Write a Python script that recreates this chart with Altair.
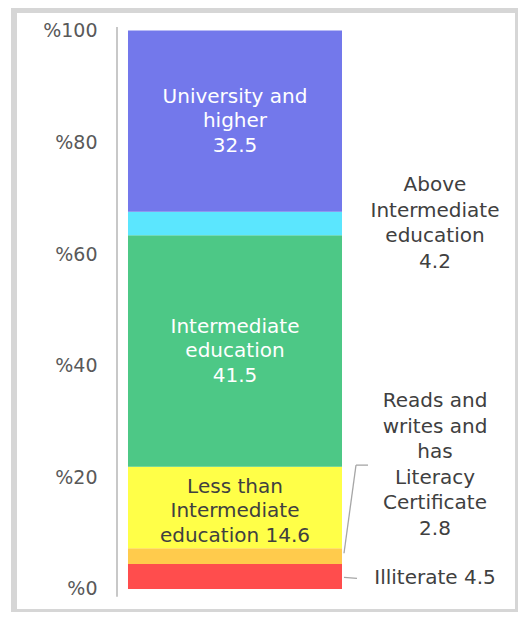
import altair as alt
import pandas as pd

# ---- data ----
categories = [
    "Illiterate",
    "Reads and writes and has Literacy Certificate",
    "Less than Intermediate education",
    "Intermediate education",
    "Above Intermediate education",
    "University and higher",
]
values = [4.5, 2.8, 14.6, 41.5, 4.2, 32.5]
labels = [
    "Illiterate 4.5",
    "Reads and\nwrites and\nhas\nLiteracy\nCertificate\n2.8",
    "Less than\nIntermediate\neducation 14.6",
    "Intermediate\neducation\n41.5",
    "Above\nIntermediate\neducation\n4.2",
    "University and\nhigher\n32.5",
]
inside = [False, False, True, True, False, True]
colors = ["#FF4D4D", "#FFCB4C", "#FFFF48", "#4DC886", "#5BE6FE", "#7378EB"]
text_colors = ["#404040", "#404040", "#404040", "#FFFFFF", "#404040", "#FFFFFF"]
# label anchor (centre of the text block) in percent units
label_centres = [2.0, 22.2, 13.9, 42.65, 65.5, 83.85]
tick_values = [0, 20, 40, 60, 80, 100]

bar_name = "Education"
PX_PER_UNIT = 5.58
LH_IN = 24.5
LH_OUT = 25.5

rows = []
cum = 0.0
for i, (c, v) in enumerate(zip(categories, values)):
    n_lines = labels[i].count("\n") + 1
    lh = LH_IN if inside[i] else LH_OUT
    first_line = label_centres[i] + (n_lines - 1) / 2 * lh / PX_PER_UNIT
    rows.append(dict(cat=c, value=v, order=i, bar=bar_name,
                     start=cum, end=cum + v, ypos=first_line,
                     label=labels[i], inside=inside[i], tcolor=text_colors[i]))
    cum += v
df = pd.DataFrame(rows)

FONT = "DejaVu Sans"

yscale = alt.Scale(domain=[-4.122, 103.763], nice=False, zero=False)
xscale = alt.Scale(type="band", domain=[bar_name], paddingInner=0,
                   paddingOuter=0.67757, align=0.3931)

base = alt.Chart(df)

bars = base.mark_bar(stroke=None).encode(
    x=alt.X("bar:N", scale=xscale, axis=None),
    y=alt.Y("start:Q", scale=yscale,
            axis=alt.Axis(values=tick_values, labelExpr="'%' + datum.value",
                          domain=False, ticks=False, grid=False, title=None,
                          labelFont=FONT, labelFontSize=19, labelColor="#595959",
                          labelPadding=20, offset=-103)),
    y2="end:Q",
    color=alt.Color("cat:N", scale=alt.Scale(domain=categories, range=colors),
                    legend=None),
)

axis_line = alt.Chart(pd.DataFrame({"a": [-1.4], "b": [100.7]})).mark_rule(
    color="#C8C8C8", strokeWidth=2
).encode(x=alt.value(103), y=alt.Y("a:Q", scale=yscale), y2="b:Q")

inner_text = base.transform_filter("datum.inside").mark_text(
    font=FONT, fontSize=20, lineBreak="\n", lineHeight=LH_IN, baseline="middle"
).encode(
    x=alt.X("bar:N", scale=xscale),
    y=alt.Y("ypos:Q", scale=yscale),
    text="label:N",
    color=alt.Color("tcolor:N", scale=None),
)

outer_text = base.transform_filter("!datum.inside").mark_text(
    font=FONT, fontSize=20, lineBreak="\n", lineHeight=LH_OUT, baseline="middle",
    dx=200, color="#404040"
).encode(
    x=alt.X("bar:N", scale=xscale),
    y=alt.Y("ypos:Q", scale=yscale),
    text="label:N",
)

leaders = pd.DataFrame({
    "x1": [330, 342, 330],
    "x2": [342, 354, 343],
    "y1": [6.4, 22.2, 2.1],
    "y2": [22.2, 22.2, 1.9],
})
leader_rules = alt.Chart(leaders).mark_rule(color="#A6A6A6", strokeWidth=1.3).encode(
    x=alt.X("x1:Q", scale=None), x2="x2:Q",
    y=alt.Y("y1:Q", scale=yscale), y2="y2:Q",
)

chart = alt.layer(bars, axis_line, inner_text, outer_text, leader_rules).properties(
    width=504, height=602,
    autosize=alt.AutoSizeParams(type="none"),
    padding={"left": 6, "top": 2, "right": 0, "bottom": 0},
    background="#FFFFFF",
).configure_view(
    fill="#FFFFFF", stroke="#D6D6D6", strokeWidth=6
)

chart.save("out.html", embed_options={"renderer": "svg", "actions": False})
